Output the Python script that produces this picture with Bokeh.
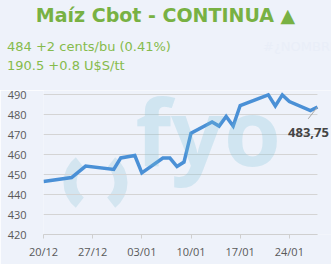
from datetime import datetime
import math
from bokeh.plotting import figure
from bokeh.layouts import column
from bokeh.models import Range1d, FixedTicker, CustomJSTickFormatter, Label, ColumnDataSource, Div
from bokeh.embed import file_html
from bokeh.resources import INLINE

# ---- data ----
dates = ["2019-12-20", "2019-12-24", "2019-12-26", "2019-12-30", "2019-12-31",
         "2020-01-02", "2020-01-03", "2020-01-06", "2020-01-07", "2020-01-08",
         "2020-01-09", "2020-01-10", "2020-01-13", "2020-01-14", "2020-01-15",
         "2020-01-16", "2020-01-17", "2020-01-21", "2020-01-22", "2020-01-23",
         "2020-01-24", "2020-01-27", "2020-01-28"]
prices = [446.5, 448.5, 454.2, 452.5, 458.3,
          459.5, 450.8, 458.2, 458.2, 454.0,
          456.2, 470.7, 476.3, 474.2, 479.0,
          474.2, 484.5, 489.8, 484.3, 489.8,
          486.5, 482.0, 483.75]
tick_dates = ["2019-12-20", "2019-12-27", "2020-01-03", "2020-01-10", "2020-01-17", "2020-01-24"]
y_ticks = [420, 430, 440, 450, 460, 470, 480, 490]
title_text = "Maíz Cbot - CONTINUA ▲"
line1_text = "484 +2 cents/bu (0.41%)"
line2_text = "190.5 +0.8 U$S/tt"
ghost_text = "#¿NOMBRE?"
last_label = "483,75"

def ms(d):
    return datetime.strptime(d, "%Y-%m-%d").timestamp() * 1000.0

xs = [ms(d) for d in dates]
DAY = 86400000.0

# ---- layout ----
W, H = 331, 264
HEAD = 90
PH = H - HEAD
FL, FR, FB = 43, 0, 30
BG = "#eef2fa"
GREEN = "#78b143"
GREEN2 = "#86bb4c"
FONT = "Open Sans"

x0, x_end = xs[0], xs[-1]
x1 = x_end + 2 * DAY
y0, y1 = 420, 492

# ---- header (HTML) ----
header_html = f"""
<div style="position:relative;width:{W}px;height:{HEAD}px;background:{BG};overflow:hidden;
            font-family:'DejaVu Sans',sans-serif;margin:0;padding:0;">
  <div style="position:absolute;left:0;top:4px;width:{W}px;text-align:center;font-weight:bold;
              font-size:19px;line-height:22px;color:{GREEN};white-space:nowrap;">{title_text}</div>
  <div style="position:absolute;left:7px;top:39px;font-size:13px;line-height:16px;color:{GREEN2};
              white-space:nowrap;">{line1_text}</div>
  <div style="position:absolute;left:7px;top:58px;font-size:13px;line-height:16px;color:{GREEN2};
              white-space:nowrap;">{line2_text}</div>
  <div style="position:absolute;left:263px;top:39px;font-size:13px;line-height:16px;color:#e9eef8;
              white-space:nowrap;">{ghost_text}</div>
</div>
"""
header = Div(text=header_html, width=W, height=HEAD, margin=0)

# ---- figure ----
p = figure(width=W, height=PH, output_backend="svg", toolbar_location=None,
           x_range=Range1d(x0, x1), y_range=Range1d(y0, y1),
           min_border_left=FL, min_border_right=FR, min_border_top=0, min_border_bottom=FB,
           background_fill_color=BG, border_fill_color=BG, outline_line_color=None)

fw = W - FL - FR
fh = PH - FB

def fx(cx):  # canvas x -> frame screen x
    return cx - FL

def fy(cy):  # overall page y (top-down) -> frame screen y (bottom-up)
    return (H - FB) - cy

def dx(cx):
    return x0 + (cx - FL) / fw * (x1 - x0)

def dy(cy):
    return y0 + ((H - FB) - cy) / fh * (y1 - y0)

# ---- watermark arcs ----
wm = "#d3e5f0"
cx, cy = dx(95), dy(182)
p.annular_wedge(x=[cx, cx], y=[cy, cy], inner_radius=19, outer_radius=32,
                inner_radius_units="screen", outer_radius_units="screen",
                start_angle=[math.radians(128), math.radians(-52)],
                end_angle=[math.radians(232), math.radians(52)],
                fill_color=wm, line_color=None, level="image")

# ---- grid lines (limited to the data span) ----
p.xgrid.grid_line_color = None
p.ygrid.grid_line_color = None
p.segment(x0=[x0] * len(y_ticks), y0=y_ticks, x1=[x_end] * len(y_ticks), y1=y_ticks,
          line_color="#d4d4d4", line_width=1, level="underlay")

# ---- axes ----
p.xaxis.ticker = FixedTicker(ticks=[ms(d) for d in tick_dates])
p.xaxis.formatter = CustomJSTickFormatter(code="""
const d = new Date(tick);
const dd = String(d.getDate()).padStart(2,'0');
const mm = String(d.getMonth()+1).padStart(2,'0');
return dd + '/' + mm;
""")
p.xaxis.bounds = (x0, x_end)
p.yaxis.ticker = FixedTicker(ticks=y_ticks)
for ax in (p.xaxis, p.yaxis):
    ax.major_label_text_font = FONT
    ax.major_label_text_font_size = "11px"
    ax.major_label_text_color = "#595959"
    ax.minor_tick_line_color = None
p.xaxis.axis_line_color = "#cfcfcf"
p.xaxis.major_tick_line_color = "#cfcfcf"
p.xaxis.major_tick_out = 4
p.xaxis.major_tick_in = 0
p.xaxis.major_label_standoff = 5
p.yaxis.axis_line_color = None
p.yaxis.major_tick_line_color = None
p.yaxis.major_label_standoff = 11

# ---- series ----
src = ColumnDataSource(dict(x=xs, y=prices))
p.line("x", "y", source=src, line_color="#4a90d6", line_width=3.5, line_join="miter")

# last value annotation
p.ray(x=[xs[-1]], y=[prices[-1]], length=15, length_units="screen",
      angle=math.radians(232), line_color="#a8a8a8", line_width=1)
p.add_layout(Label(x=xs[-1], y=prices[-1], x_offset=-9, y_offset=-25, text=last_label,
                   text_font=FONT, text_font_style="bold", text_font_size="13px",
                   text_color="#454545", text_align="center", text_baseline="middle"))

# ---- watermark letters (added last, translucent) ----
p.add_layout(Label(x=fx(135), y=fy(130), x_units="screen", y_units="screen", text="fyo",
                   text_font="Noto Sans", text_font_style="bold", text_font_size="92px",
                   text_color="#78bed7", text_alpha=0.25, text_align="left",
                   text_baseline="middle"))

layout = column(header, p, spacing=0)
open("out.html", "w").write(file_html(layout, INLINE))
